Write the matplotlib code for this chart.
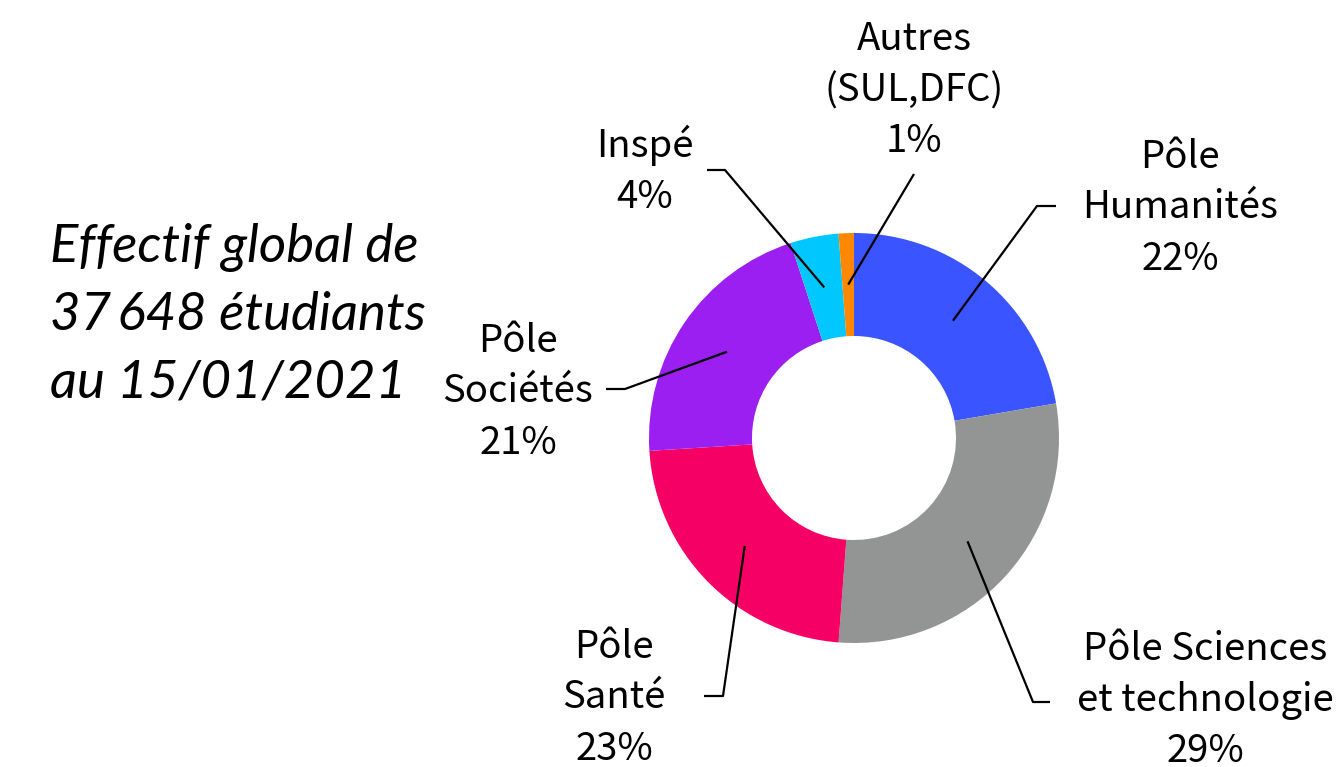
import numpy as np
import matplotlib.pyplot as plt

# Répartition des effectifs (%)
poles = ['Pôle\nHumanités', 'Pôle Sciences\net technologie', 'Pôle\nSanté',
         'Pôle\nSociétés', 'Inspé', 'Autres\n(SUL,DFC)']
parts = [22.3, 28.9, 22.8, 21.0, 3.8, 1.2]
etiquettes = ['22%', '29%', '23%', '21%', '4%', '1%']
couleurs = ['#3A55FF', '#939594', '#F50064', '#9A1FF0', '#00C8FF', '#FF8800']

W, H = 1337, 767
fig = plt.figure(figsize=(W / 100, H / 100), dpi=100)
ax = fig.add_axes([0, 0, 1, 1])

cx, cy = 854, H - 438
R, ep = 205, 103
wedges, _ = ax.pie(parts, colors=couleurs, startangle=90, counterclock=False,
                   radius=R, center=(cx, cy),
                   wedgeprops=dict(width=ep, edgecolor='none'))
ax.set_xlim(0, W)
ax.set_ylim(0, H)
ax.set_aspect('equal')
ax.axis('off')

# position des étiquettes (x, y pixels) et coude des traits
pos_txt = [(1180, 208), (1205, 700), (614, 698), (518, 392), (645, 171), (914, 91)]
coudes = [[(1037, 206), (1056, 206)],
          [(1033, 702), (1050, 702)],
          [(723, 696), (704, 696)],
          [(625, 389), (606, 389)],
          [(725, 170), (707, 170)],
          [(914, 174)]]

police = ['Noto Sans CJK JP', 'DejaVu Sans']
r_mid = R - ep / 2
for w, nom, pc, (tx, ty), cd in zip(wedges, poles, etiquettes, pos_txt, coudes):
    a = np.deg2rad((w.theta1 + w.theta2) / 2)
    x0, y0 = cx + r_mid * np.cos(a), cy + r_mid * np.sin(a)
    xs = [x0] + [p[0] for p in cd]
    ys = [y0] + [H - p[1] for p in cd]
    ax.plot(xs, ys, color='black', lw=1.6, solid_capstyle='butt')
    ax.text(tx, H - ty, nom + '\n' + pc, ha='center', va='center',
            fontsize=27.6, family=police, linespacing=1.4)

ax.text(50, H - 315, 'Effectif global de\n37\u2009648 étudiants\nau 15/01/2021',
        ha='left', va='center', fontsize=38, style='italic',
        family=['Lato', 'DejaVu Sans'], linespacing=1.5)

fig.savefig('out.png', dpi=100)
